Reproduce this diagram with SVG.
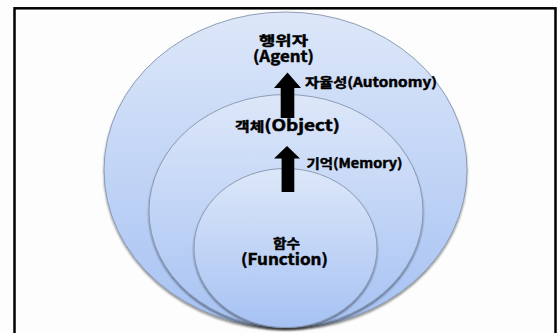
<svg xmlns="http://www.w3.org/2000/svg" width="557" height="333" viewBox="0 0 557 333">
  <defs>
    <linearGradient id="blue" x1="0" y1="0" x2="0" y2="1">
      <stop offset="0" stop-color="#dde7f9"/>
      <stop offset="1" stop-color="#a6c2f3"/>
    </linearGradient>
    <filter id="shadow" x="-10%" y="-10%" width="120%" height="125%">
      <feGaussianBlur in="SourceAlpha" stdDeviation="1.2"/>
      <feOffset dx="0" dy="1.5" result="b"/>
      <feComponentTransfer><feFuncA type="linear" slope="0.45"/></feComponentTransfer>
      <feMerge><feMergeNode/><feMergeNode in="SourceGraphic"/></feMerge>
    </filter>
  </defs>
  <style>
    .ring { fill: url(#blue); stroke: #8595ae; stroke-width: 0.9; filter: url(#shadow); }
    .lbl { font-family: "Noto Sans CJK KR", "Noto Sans", sans-serif; font-weight: bold; fill: #000; stroke: #000; stroke-width: 0.45; }
    .ko { font-size: 13px; }
    .en { font-size: 15.5px; }
    .small { font-size: 13px; }
    .arrow { fill: #000; stroke: none; }
  </style>
  <rect x="0" y="0" width="557" height="333" fill="#fdfdfd"/>
  <rect x="14.5" y="8.3" width="541" height="340" fill="#fdfdfd" stroke="#000" stroke-width="2.5"/>

  <g id="agent">
    <ellipse class="ring" cx="285.5" cy="170" rx="181.5" ry="158"/>
    <text class="lbl en"><tspan class="ko" x="259" y="45" textLength="49" lengthAdjust="spacingAndGlyphs">행위자</tspan><tspan x="253" y="61.5" textLength="61" lengthAdjust="spacingAndGlyphs">(Agent)</tspan></text>
  </g>
  <g id="object">
    <ellipse class="ring" cx="286" cy="211" rx="137" ry="116.5"/>
    <text class="lbl en" x="235" y="131" textLength="105" lengthAdjust="spacingAndGlyphs"><tspan class="ko">객체</tspan>(Object)</text>
  </g>
  <g id="function">
    <ellipse class="ring" cx="285.5" cy="248" rx="91.5" ry="79.5"/>
    <text class="lbl en"><tspan class="ko" x="273" y="247.5" textLength="27" lengthAdjust="spacingAndGlyphs">함수</tspan><tspan x="241" y="265" textLength="87" lengthAdjust="spacingAndGlyphs">(Function)</tspan></text>
  </g>

  <g id="connectors">
    <polygon class="arrow" points="287.5,72.5 301,88 294.3,88 294.3,118 280.7,118 280.7,88 274,88"/>
    <polygon class="arrow" points="287,146 300,158.5 294.3,158.5 294.3,192 281.6,192 281.6,158.5 274,158.5"/>
    <text class="lbl small" x="305" y="86.5" textLength="132" lengthAdjust="spacingAndGlyphs">자율성(Autonomy)</text>
    <text class="lbl small" x="306.5" y="167.5" textLength="96" lengthAdjust="spacingAndGlyphs">기억(Memory)</text>
  </g>
</svg>
